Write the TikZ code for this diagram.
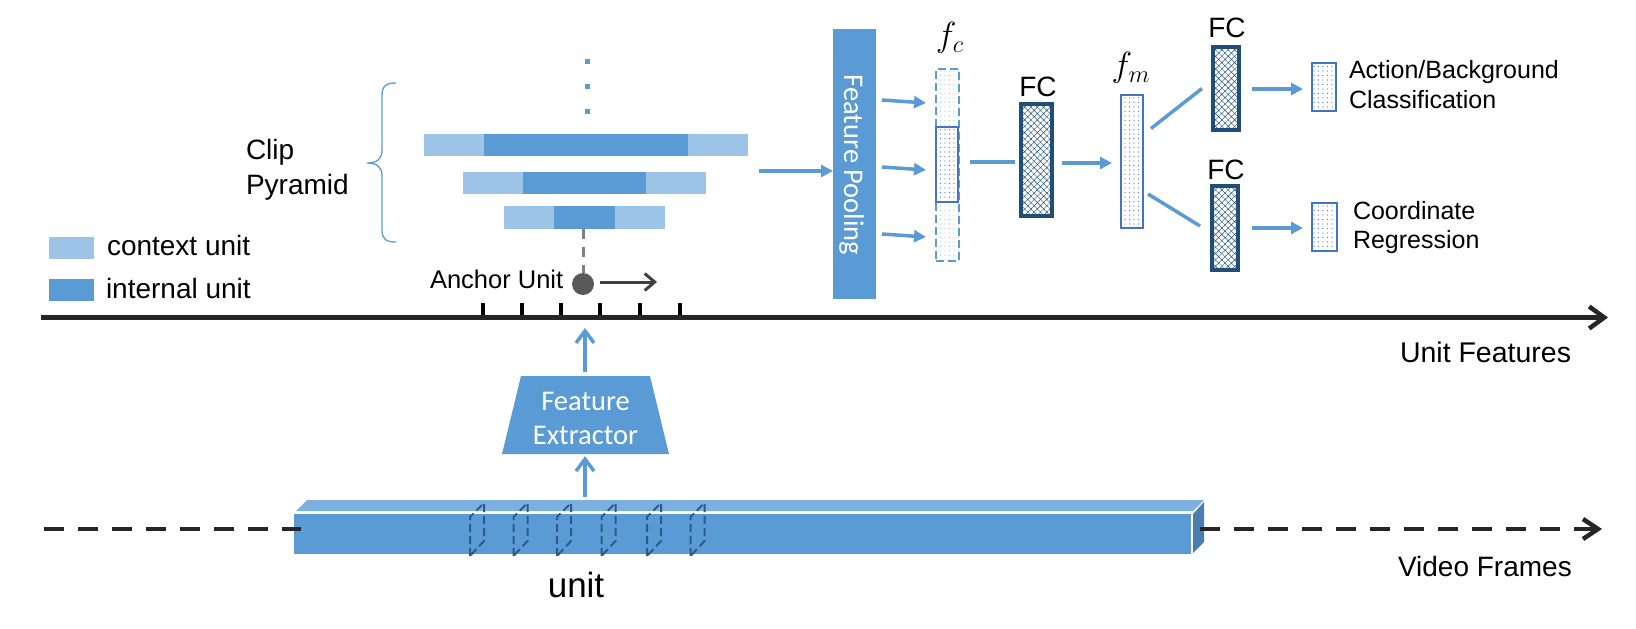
\RequirePackage{fix-cm}
\documentclass[tikz,border=0pt]{standalone}
\usepackage{fontspec}
\setmainfont{Liberation Sans}
\newfontfamily\calib{Carlito}
\usetikzlibrary{arrows.meta,patterns.meta,calc}
\definecolor{cblue}{HTML}{5B9BD5}
\definecolor{clight}{HTML}{9DC3E6}
\definecolor{cnavy}{HTML}{1F4E79}
\definecolor{cmed}{HTML}{4472C4}
\definecolor{cdark}{HTML}{262626}
\definecolor{ctop}{HTML}{7DB0DF}
\definecolor{cside}{HTML}{4A7DB0}
\definecolor{cframe}{HTML}{2E5A8A}
\definecolor{cgrayd}{HTML}{595959}
\definecolor{cgraym}{HTML}{808080}
\definecolor{carr}{HTML}{404040}
\begin{document}
\begin{tikzpicture}[x=1pt,y=-1pt,
  txt/.style={inner sep=0pt, outer sep=0pt, anchor=base west, font=\fontsize{28}{34}\selectfont},
  smalltxt/.style={txt, font=\fontsize{25}{30}\selectfont},
  wtxt/.style={inner sep=0pt, outer sep=0pt, anchor=base, text=white, font=\calib\fontsize{28.5}{34}\selectfont},
  mathlbl/.style={inner sep=0pt, font=\fontsize{20}{24}\selectfont},
  fclbl/.style={inner sep=0pt, anchor=base, font=\fontsize{28}{34}\selectfont},
  blk/.style={inner sep=0pt, outer sep=0pt, draw=none},
  ctx/.style={blk, fill=clight},
  intu/.style={blk, fill=cblue},
  barrow/.style={draw=cblue, line width=3.5pt, -{Triangle[length=12pt,width=12pt]}},
  bline/.style={draw=cblue, line width=3.5pt},
  oarrow/.style={draw=cblue, line width=3.5pt, -{Straight Barb[length=12pt,width=18pt]}},
  fcbox/.style={inner sep=0pt, outer sep=0pt, draw=cnavy, line width=3.5pt, preaction={fill=white},
    pattern={Hatch[angle=45,distance=4.5pt,line width=0.45pt]}, pattern color=cnavy},
  featbox/.style={inner sep=0pt, outer sep=0pt, draw=cmed, line width=2.5pt, preaction={fill=white},
    pattern={Dots[distance=4.5pt,radius=0.6pt]}, pattern color=cmed},
  ctxfeat/.style={inner sep=0pt, outer sep=0pt, draw=cblue, line width=2.5pt, dash pattern=on 8pt off 4pt,
    pattern={Dots[distance=4.5pt,radius=0.6pt]}, pattern color=clight},
  frame/.style={draw=cframe, line width=2pt, dash pattern=on 8pt off 4pt},
  dashline/.style={draw=cdark, line width=4.5pt, dash pattern=on 20pt off 14pt}
]
\useasboundingbox (0,0) rectangle (1636,629);

% ---------- clip pyramid ----------
\foreach \yy in {59,84,109} \fill[cblue] (584.5,\yy) rectangle ++(5,5);
\node[ctx, minimum width=324, minimum height=22] (c1) at (586,145) {};
\node[intu, minimum width=204, minimum height=22] (i1) at (586,145) {};
\node[ctx, minimum width=243, minimum height=22] (c2) at (584.5,183) {};
\node[intu, minimum width=123, minimum height=22] (i2) at (584.5,183) {};
\node[ctx, minimum width=161, minimum height=23] (c3) at (584.5,217.5) {};
\node[intu, minimum width=61, minimum height=23] (i3) at (584.5,217.5) {};

\draw[cblue, line width=1.3pt] (396,83) .. controls (386,83) and (382,86) .. (382,96) -- (382,150)
  .. controls (382,159) and (377,163) .. (367,163) .. controls (377,163) and (382,167) .. (382,176)
  -- (382,230) .. controls (382,239) and (386,242) .. (396,242);
\node[txt] (clip1) at (246,159) {Clip};
\node[txt] (clip2) at (246,194) {Pyramid};

% legend
\node[ctx, minimum width=45, minimum height=22] (lgc) at (71.5,248) {};
\node[intu, minimum width=45, minimum height=22] (lgi) at (71.5,290) {};
\node[txt] (lgct) at (107,255) {context unit};
\node[txt] (lgit) at (106,298) {internal unit};

% anchor
\node[circle, fill=cgrayd, minimum size=22, inner sep=0pt] (anc) at (583,284) {};
\draw[draw=cgraym, line width=3pt, dash pattern=on 10pt off 8pt] (anc.north |- i3.south) -- (anc.north);
\coordinate (ancend) at (657,282);
\draw[draw=carr, line width=3pt, -{Straight Barb[length=10pt,width=17pt]}] ($(anc.east)+(6,-2)$) -- (ancend);
\node[smalltxt, font=\fontsize{25.5}{30}\selectfont] (anct) at (430,288) {Anchor Unit};

% ---------- unit feature axis ----------
\coordinate (axs) at (41,317.5);
\coordinate (axe) at (1608,317.5);
\foreach \x in {483,522,561,600,640,680} \draw[black, line width=4pt] (\x,303) -- (\x,317);
\draw[draw=cdark, line width=4.5pt, -{Straight Barb[length=15pt,width=22pt]}] (axs) -- (axe);
\node[txt, font=\fontsize{28.5}{34}\selectfont] (uft) at (1400,362) {Unit Features};

% ---------- feature extractor ----------
\node[inner sep=0pt, minimum width=167, minimum height=78] (fe) at (585.5,415) {};
\fill[cblue] (521,376) -- (650,376) -- (669,454) -- (502,454) -- cycle;
\node[wtxt] (fe1) at (585.5,410) {Feature};
\node[wtxt] (fe2) at (585.5,444) {Extractor};
\coordinate (axin) at (585,328);
\draw[oarrow] ($(fe.north)+(-0.5,-4)$) -- (axin);

% ---------- video ----------
\node[blk, fill=cblue, minimum width=897, minimum height=40] (vid) at (742.5,534) {};
\fill[ctop] (296,511) -- (307,500) -- (1204,500) -- (1193,511) -- cycle;
\fill[cside] (1193,514) -- (1204,502) -- (1204,542) -- (1193,553) -- cycle;
\foreach \x in {470,513.5,557,601.5,647,690.5}
  \draw[frame] (\x,556) -- (\x,517) -- (\x+14,503) -- (\x+14,541) -- cycle;
\coordinate (vstart) at (44,529);
\coordinate (vend) at (1602,529);
\draw[dashline] (vstart) -- (301,529);
\draw[dashline, -{Straight Barb[length=15pt,width=20pt]}] (1200,529) -- (vend);
\draw[oarrow] (585,497) -- ($(fe.south)+(-0.5,2)$);
\node[txt, font=\fontsize{35}{40}\selectfont, anchor=base] (unitt) at (576,597) {unit};
\node[txt] (vft) at (1398,576) {Video Frames};

% ---------- head ----------
\coordinate (pyrout) at (759,171);
\node[blk, fill=cblue, minimum width=43, minimum height=270] (pool) at (854.5,164) {};
\node[wtxt, rotate=-90] (poolt) at (844,165) {Feature Pooling};
\draw[barrow] (pyrout) -- (pool.west |- pyrout);

\node[ctxfeat, minimum width=23, minimum height=192] (fcol) at (947.5,165) {};
\node[featbox, minimum width=22, minimum height=75] (fcin) at (947,164.5) {};
\node[mathlbl] (fclab) at (950,38) {\scalebox{1.75}{$f_c$}};
\foreach \dy in {-64,3,70}
  \draw[barrow] ($(pool.east)+(6,\dy)$) -- ($(fcol.west)+(-10,\dy+2)$);

\node[fcbox, minimum width=31, minimum height=112] (fc1) at (1036.5,160) {};
\node[fclbl] (fc1t) at (1038,96) {FC};
\draw[bline] ($(fcin.east)+(12,-2.5)$) -- ($(fc1.west)+(-6,2)$);

\node[featbox, minimum width=22, minimum height=133] (fm) at (1132,161.5) {};
\node[mathlbl] (fmlab) at (1131,68) {\scalebox{1.75}{$f_m$}};
\draw[barrow] ($(fc1.east)+(10,3)$) -- ($(fm.west)+(-9,1.5)$);

\node[fcbox, minimum width=26, minimum height=83] (fc2) at (1226,88.5) {};
\node[fclbl] (fc2t) at (1227,37) {FC};
\node[fcbox, minimum width=26, minimum height=84] (fc3) at (1225,228) {};
\node[fclbl] (fc3t) at (1226,179) {FC};
\draw[bline] ($(fm.east)+(8,-33)$) -- ($(fc2.west)+(-11,0)$);
\draw[bline] ($(fm.east)+(5,32.5)$) -- ($(fc3.west)+(-12,-2)$);

\node[featbox, minimum width=24, minimum height=48] (out1) at (1324,87) {};
\node[featbox, minimum width=25, minimum height=48] (out2) at (1324.5,227) {};
\draw[barrow] ($(fc2.east)+(13,0.5)$) -- ($(out1.west)+(-9,2)$);
\draw[barrow] ($(fc3.east)+(14,0)$) -- ($(out2.west)+(-9,1)$);

\node[smalltxt] (o1a) at (1349,78) {Action/Background};
\node[smalltxt] (o1b) at (1349,108) {Classification};
\node[smalltxt] (o2a) at (1353,219) {Coordinate};
\node[smalltxt] (o2b) at (1353,248) {Regression};
\end{tikzpicture}
\end{document}
